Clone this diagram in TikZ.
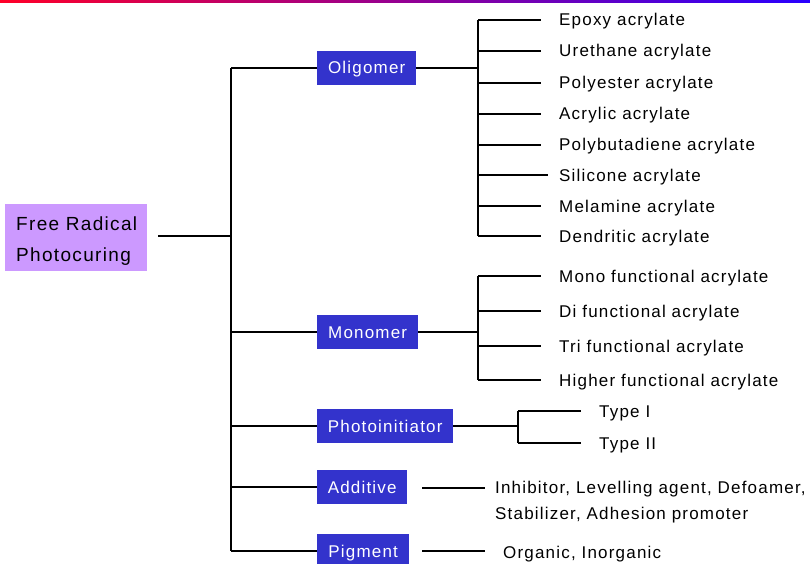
\documentclass[tikz,border=0pt]{standalone}
\usepackage{fontspec}
\setmainfont{Liberation Sans}[LetterSpace=7]
\definecolor{boxblue}{RGB}{51,51,204}
\definecolor{rootpurple}{RGB}{204,153,255}
\definecolor{barred}{RGB}{255,0,40}
\definecolor{barblue}{RGB}{40,0,255}
\tikzset{
  conn/.style={line width=1.5pt, black},
  cat/.style={fill=boxblue, text=white, font=\fontsize{17}{20}\selectfont, minimum height=34, inner sep=0, anchor=west, text height=14, text depth=2},
  leaf/.style={anchor=west, inner sep=0, font=\fontsize{17}{20}\selectfont, text height=14, text depth=2},
}
\begin{document}
\begin{tikzpicture}[x=1pt,y=-1pt]
\useasboundingbox (0,0) rectangle (810,564);
\fill[white] (0,0) rectangle (810,564);
\shade[left color=barred, right color=barblue] (0,0) rectangle (810,3);

% root
\node[fill=rootpurple, anchor=north west, minimum width=142, minimum height=67, inner sep=0] (root) at (5,204) {};
\node[anchor=north west, inner sep=0, align=left, font=\fontsize{19}{31}\selectfont] (rootlbl) at (16,217) {Free Radical\\Photocuring};

% categories
\node[cat, minimum width=99]  (olig)  at (317,68)  {Oligomer};
\node[cat, minimum width=101] (mono)  at (317,332) {Monomer};
\node[cat, minimum width=136] (photo) at (317,426) {Photoinitiator};
\node[cat, minimum width=90]  (addi)  at (317,487) {Additive};
\node[cat, minimum width=92]  (pigm)  at (317,551) {Pigment};

% trunk
\coordinate (ttop) at (231,68);
\coordinate (tbot) at (231,551);
\coordinate (rj) at (231,236);
\draw[conn] (ttop) -- (tbot);
\draw[conn] ([xshift=11]root.east |- rj) -- (rj);
\draw[conn] (ttop) -- (olig.west);
\draw[conn] (ttop |- mono.west) -- (mono.west);
\draw[conn] (ttop |- photo.west) -- (photo.west);
\draw[conn] (ttop |- addi.west) -- (addi.west);
\draw[conn] (tbot) -- (pigm.west);

% oligomer leaves
\node[leaf] (o1) at (559,20)  {Epoxy acrylate};
\node[leaf] (o2) at (559,51)  {Urethane acrylate};
\node[leaf] (o3) at (559,83)  {Polyester acrylate};
\node[leaf] (o4) at (559,114) {Acrylic acrylate};
\node[leaf] (o5) at (559,145) {Polybutadiene acrylate};
\node[leaf] (o6) at (559,175) {Silicone acrylate};
\node[leaf] (o7) at (559,206) {Melamine acrylate};
\node[leaf] (o8) at (559,236) {Dendritic acrylate};
\coordinate (obus) at (478,68);
\draw[conn] (olig.east) -- (obus);
\draw[conn] (obus |- o1.west) -- (obus |- o8.west);
\foreach \n in {o1,o2,o3,o4,o5,o7,o8}{
  \draw[conn] (obus |- \n.west) -- ([xshift=-18]\n.west);
}
\draw[conn] (obus |- o6.west) -- ([xshift=-11]o6.west);

% monomer leaves
\node[leaf] (m1) at (559,276) {Mono functional acrylate};
\node[leaf] (m2) at (559,311) {Di functional acrylate};
\node[leaf] (m3) at (559,346) {Tri functional acrylate};
\node[leaf] (m4) at (559,380) {Higher functional acrylate};
\coordinate (mbus) at (478,332);
\draw[conn] (mono.east) -- (mbus);
\draw[conn] (mbus |- m1.west) -- (mbus |- m4.west);
\foreach \n in {m1,m2,m3,m4}{
  \draw[conn] (mbus |- \n.west) -- ([xshift=-18]\n.west);
}

% photoinitiator leaves
\node[leaf] (p1) at (599,411) {Type I};
\node[leaf] (p2) at (599,443) {Type II};
\coordinate (pbus) at (518,426);
\draw[conn] (photo.east) -- (pbus);
\draw[conn] (pbus |- p1.west) -- (pbus |- p2.west);
\foreach \n in {p1,p2}{
  \draw[conn] (pbus |- \n.west) -- ([xshift=-18]\n.west);
}

% additive
\node[anchor=north west, inner sep=0, align=left, font=\fontsize{17}{26}\selectfont] (addt) at (495,481) {Inhibitor, Levelling agent, Defoamer,\\Stabilizer, Adhesion promoter};
\coordinate (aend) at (485,488);
\draw[conn] ([xshift=15]addi.east |- aend) -- (aend);

% pigment
\node[leaf] (pigt) at (503,552) {Organic, Inorganic};
\coordinate (gend) at (485,551);
\draw[conn] ([xshift=13]pigm.east |- gend) -- (gend);
\end{tikzpicture}
\end{document}
